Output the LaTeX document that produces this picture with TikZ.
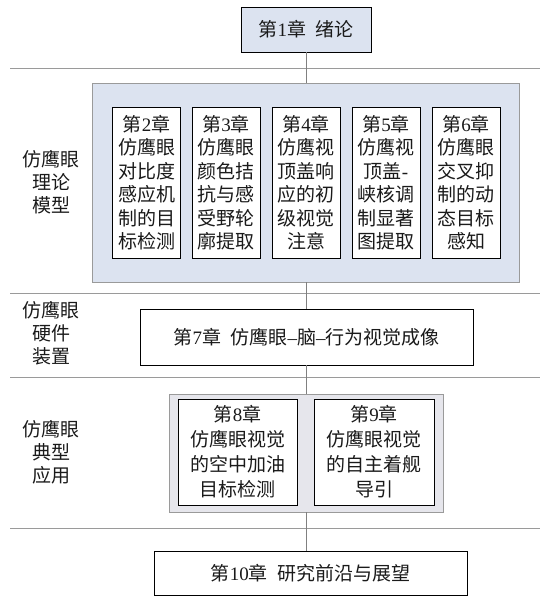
\documentclass[tikz,border=0pt]{standalone}
\usepackage{fontspec}
\setmainfont{Liberation Serif}
\newfontfamily\cjk{Noto Sans CJK SC}
\newcommand\latd[1]{{\rmfamily #1}}
\definecolor{panelblue}{HTML}{DCE3F0}
\definecolor{panelgray}{HTML}{E6E6EC}
\definecolor{rulegray}{HTML}{9A9A9A}
\definecolor{linkgray}{HTML}{808080}
\definecolor{txt}{HTML}{1A1A1A}
\begin{document}
\begin{tikzpicture}[x=1pt,y=-1pt,
  every node/.style={text=txt, font=\cjk\fontsize{19}{23.5}\selectfont, align=center, inner sep=0pt},
  chap/.style={draw=black, line width=0.9pt, fill=white},
  chapblue/.style={draw=black, line width=0.9pt, fill=panelblue},
  bluepanel/.style={draw=rulegray, line width=0.8pt, fill=panelblue},
  graypanel/.style={draw=rulegray, line width=0.8pt, fill=panelgray},
  sep/.style={draw=rulegray, line width=0.8pt},
  link/.style={draw=linkgray, line width=0.9pt},
  lab/.style={font=\cjk\fontsize{19}{23}\selectfont}]
\useasboundingbox (0,0) rectangle (540,601);

% separators
\coordinate (s1l) at (10,68);  \coordinate (s1r) at (540,68);
\coordinate (s2l) at (10,293); \coordinate (s2r) at (540,293);
\coordinate (s3l) at (10,377); \coordinate (s3r) at (540,377);
\coordinate (s4l) at (10,528); \coordinate (s4r) at (540,528);
\draw[sep] (s1l) -- (s1r);
\draw[sep] (s2l) -- (s2r);
\draw[sep] (s3l) -- (s3r);
\draw[sep] (s4l) -- (s4r);

% chapter 1
\node[chapblue, minimum width=130pt, minimum height=45pt] (c1) at (306,29.5) {第\latd{1}章\hspace{0.5em}绪论};

% theory panel
\node[bluepanel, minimum width=427pt, minimum height=199pt] (p1) at (305.5,182.5) {};
\node[chap, minimum width=68pt, minimum height=151pt] (c2) at (146.5,182.5) {第\latd{2}章\\仿鹰眼\\对比度\\感应机\\制的目\\标检测};
\node[chap, minimum width=68pt, minimum height=151pt] (c3) at (226,182.5) {第\latd{3}章\\仿鹰眼\\颜色拮\\抗与感\\受野轮\\廓提取};
\node[chap, minimum width=68pt, minimum height=151pt] (c4) at (306,182.5) {第\latd{4}章\\仿鹰视\\顶盖响\\应的初\\级视觉\\注意};
\node[chap, minimum width=68pt, minimum height=151pt] (c5) at (386,182.5) {第\latd{5}章\\仿鹰视\\顶盖\latd{-}\\峡核调\\制显著\\图提取};
\node[chap, minimum width=68pt, minimum height=151pt] (c6) at (466,182.5) {第\latd{6}章\\仿鹰眼\\交叉抑\\制的动\\态目标\\感知};

% chapter 7
\node[chap, minimum width=333pt, minimum height=56pt] (c7) at (306.5,337) {第\latd{7}章\hspace{0.5em}仿鹰眼\latd{–}脑\latd{–}行为视觉成像};

% application panel
\node[graypanel, minimum width=274pt, minimum height=118pt] (p2) at (306,453) {};
\node[chap, minimum width=119pt, minimum height=106pt, font=\cjk\fontsize{19}{25}\selectfont] (c8) at (237.5,452) {第\latd{8}章\\仿鹰眼视觉\\的空中加油\\目标检测};
\node[chap, minimum width=120pt, minimum height=106pt, font=\cjk\fontsize{19}{25}\selectfont] (c9) at (374,452) {第\latd{9}章\\仿鹰眼视觉\\的自主着舰\\导引};

% chapter 10
\node[chap, minimum width=313pt, minimum height=44pt] (c10) at (310.5,573) {第\latd{10}章\hspace{0.5em}研究前沿与展望};

% connectors
\draw[link] (c1.south) -- (c1.south |- p1.north);
\draw[link] (c1.south |- p1.south) -- (c1.south |- c7.north);
\draw[link] (c1.south |- c7.south) -- (c1.south |- p2.north);
\draw[link] (c1.south |- p2.south) -- (c1.south |- c10.north);

% side labels
\node[lab] (l1) at (51,182.5) {仿鹰眼\\理论\\模型};
\node[lab] (l2) at (51,333.5) {仿鹰眼\\硬件\\装置};
\node[lab] (l3) at (51,452.5) {仿鹰眼\\典型\\应用};
\end{tikzpicture}
\end{document}
